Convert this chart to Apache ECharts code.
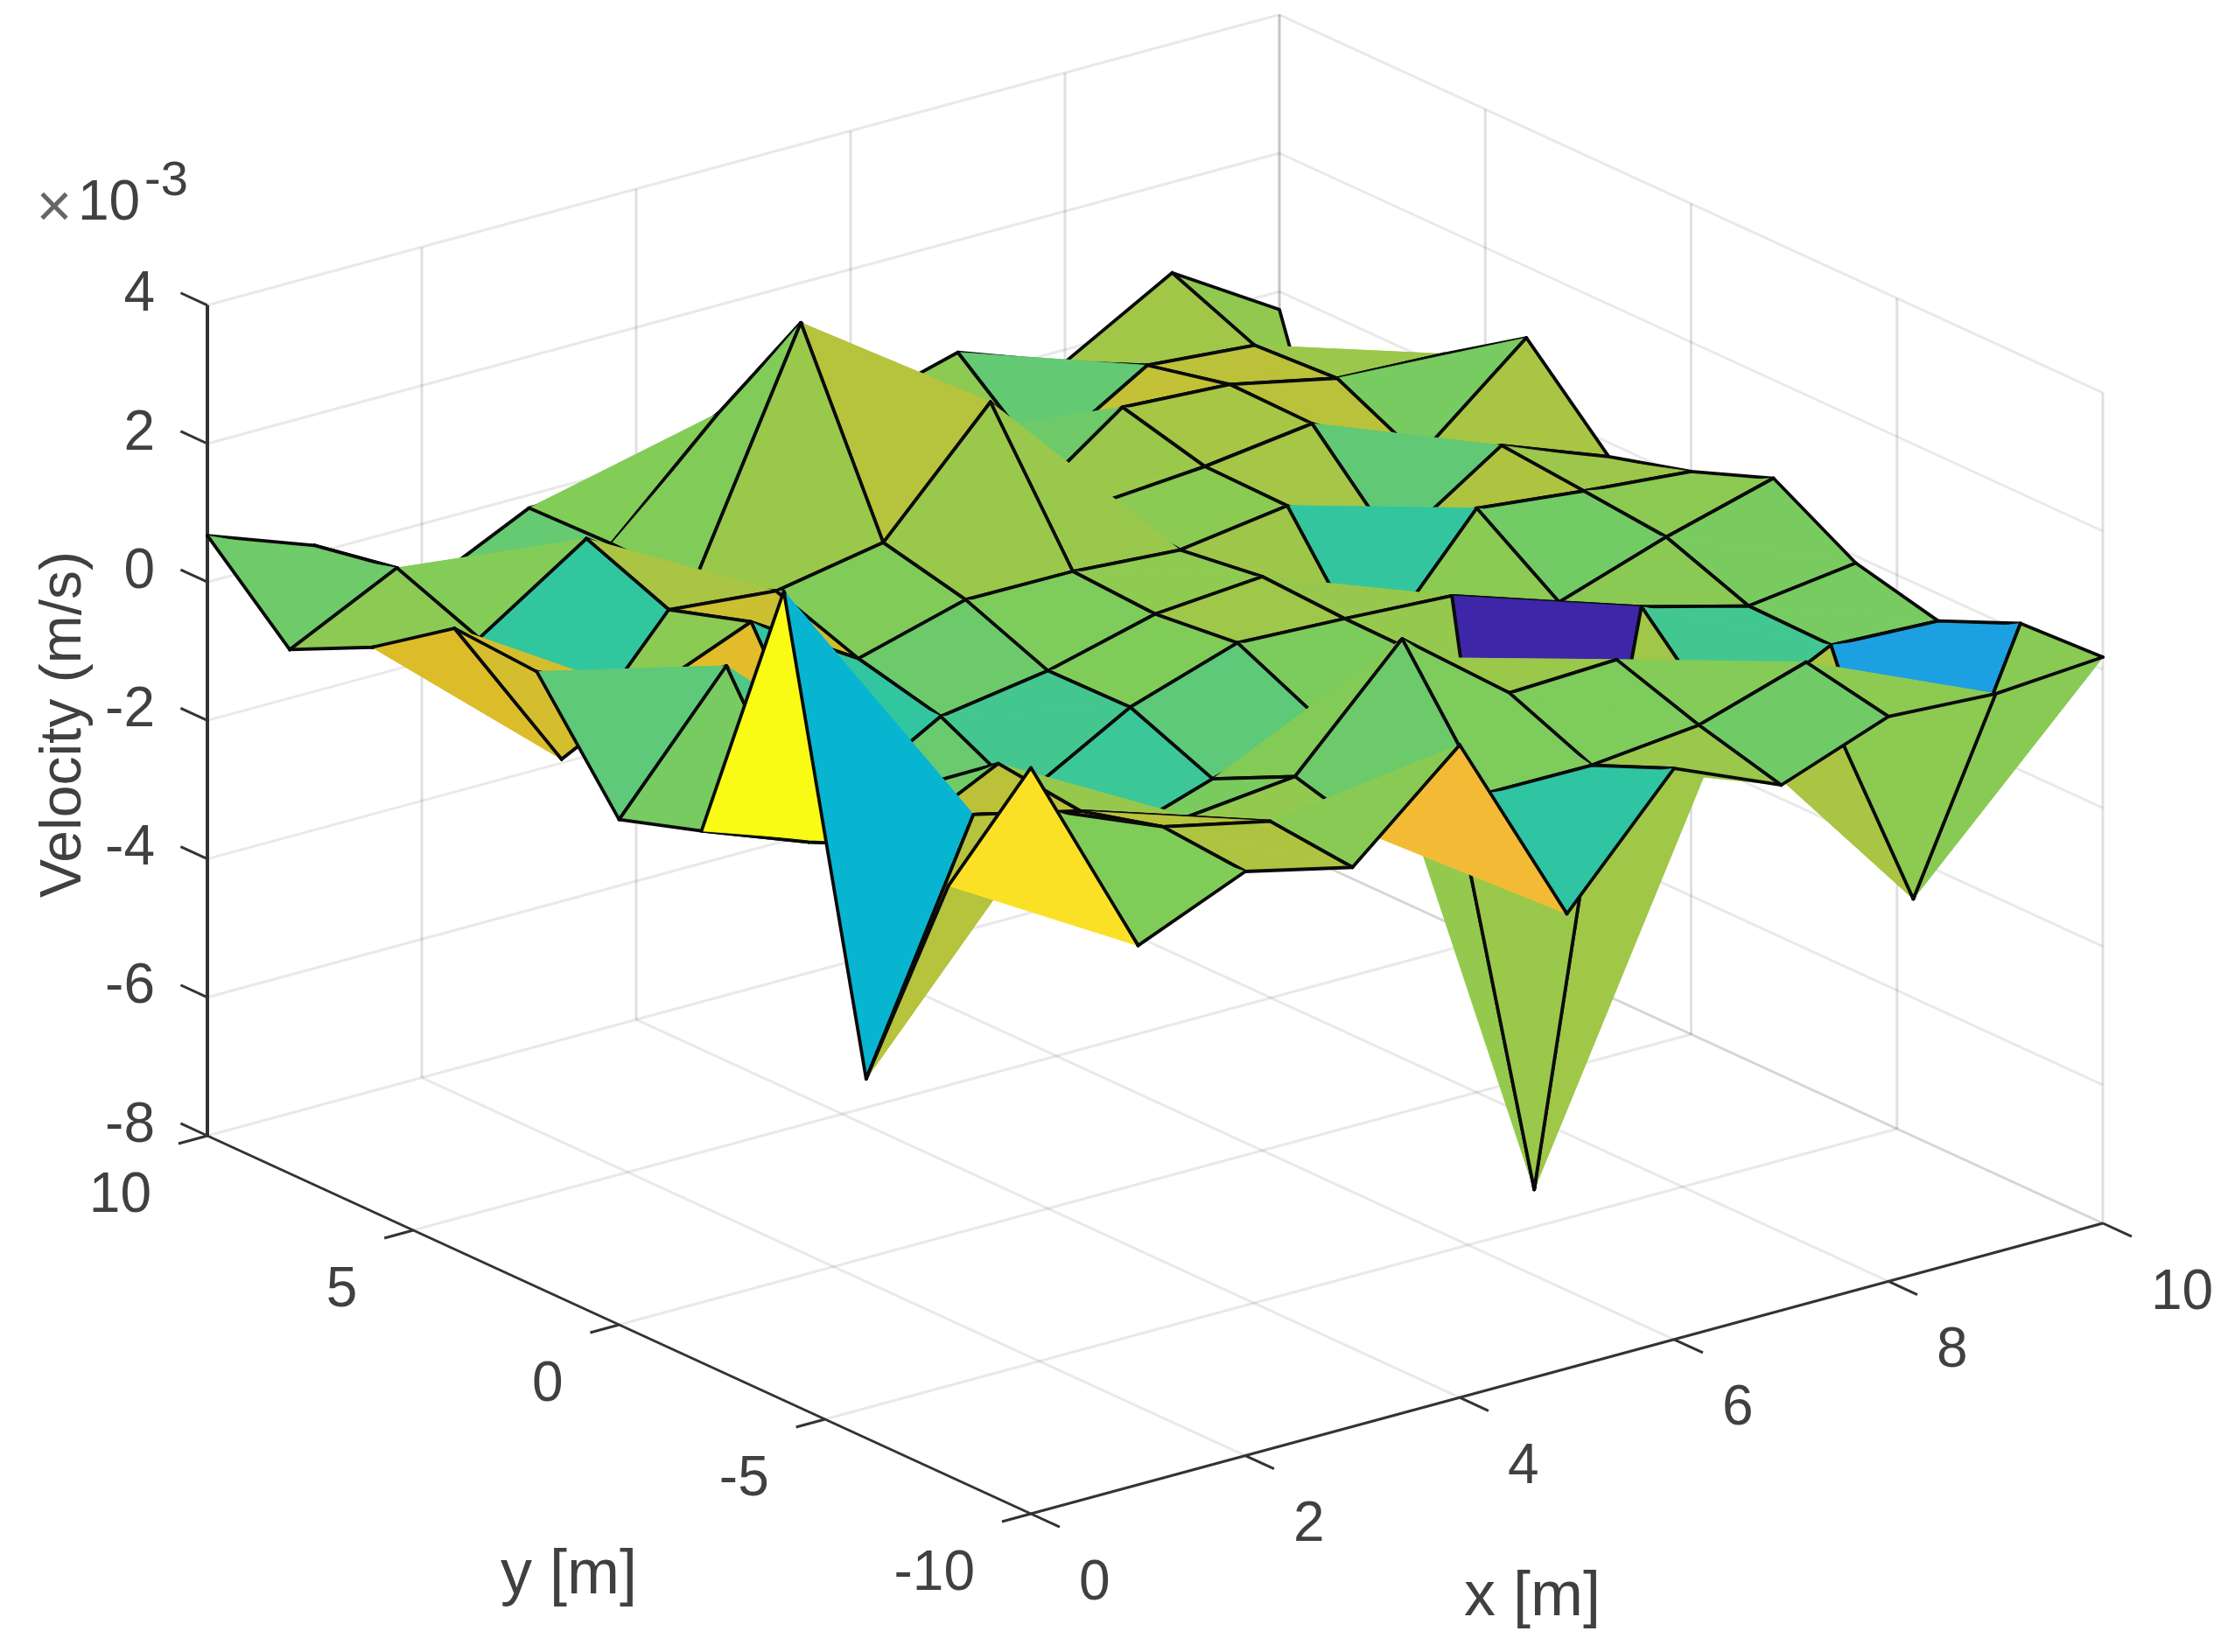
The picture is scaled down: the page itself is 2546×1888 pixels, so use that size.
<!DOCTYPE html>
<html>
<head>
<meta charset="utf-8">
<title>Velocity surface</title>
<script src="https://cdn.jsdelivr.net/npm/echarts@6/dist/echarts.min.js"></script>
<style>html,body{margin:0;padding:0;background:#fff}#chart{width:2546px;height:1888px}</style>
</head>
<body>
<div id="chart"></div>
<script>
// ---------- data (velocity in 10^-3 m/s) ----------
const xGrid = [0,1,2,3,4,5,6,7,8,9,10];
const yGrid = [-10,-8,-6,-4,-2,0,2,4,6,8,10];
const xTicks = [0,2,4,6,8,10];
const yTicks = [-10,-5,0,5,10];
const zTicks = [-8,-6,-4,-2,0,2,4];
const velYm10 = [2.78,-0.21,0.44,0.08,1.43,-1.43,0.25,-0.41,0.16,0.07,0.18];
const velYm8  = [0.53,1.18,0.54,0.20,-0.45,-0.24,-0.25,-0.09,0.40,-3.44,0.12];
const velYm6  = [-2.81,0.59,0.22,-0.28,-0.12,1.45,0.25,0.31,-1.09,-0.32,-0.39];
const velYm4  = [3.69,-0.40,0.36,-1.21,-0.70,-0.26,0.21,-7.89,0.11,-0.30,-0.10];
const velYm2  = [-0.32,-0.90,-0.52,-1.08,-0.21,0.30,0.23,0.14,-0.37,0.15,0.58];
const velY0   = [-0.70,1.10,-1.35,-0.47,-0.23,0.17,0.29,-1.32,0.44,0.27,0.13];
const velY2   = [0.89,0.14,0.77,-0.18,0.25,0.24,0.13,0.35,-0.64,0.38,-0.20];
const velY4   = [0.97,-1.34,0.40,0.25,0.53,2.14,0.25,0.37,0.57,-0.32,0.97];
const velY6   = [0.15,-0.14,0.88,-0.19,3.16,1.00,-0.44,0.68,0.59,0.26,0.19];
const velY8   = [-0.43,0.33,-0.58,-0.16,1.31,0.05,0.15,-0.61,0.32,0.19,-4.01];
const velY10  = [0.67,0.11,-0.93,-0.19,-0.16,0.04,-0.05,0.38,-0.18,0.69,-0.26];
const velocity = [velYm10,velYm8,velYm6,velYm4,velYm2,velY0,velY2,velY4,velY6,velY8,velY10];

// ---------- view ----------
const origin = [1178, 1730];      // (x=0, y=-10, z=-8) on the plane
const xStep = [122.5, -33.2];     // per x unit
const yStep = [-47.05, -21.6];    // per y unit
const zStep = -79.1;              // per z unit
function project(x,y,z){
  const dy = y+10, dz = z+8;
  return [origin[0]+x*xStep[0]+dy*yStep[0], origin[1]+x*xStep[1]+dy*yStep[1]+dz*zStep];
}
// ---------- colour ----------
const parulaStops = [[0,.2422,.1504,.6603],[.125,.2810,.3228,.9579],[.25,.1540,.5902,.9218],[.375,.0297,.7082,.8163],
  [.5,.1938,.7758,.6251],[.625,.5044,.7993,.3480],[.75,.8634,.7406,.1596],[.8125,.95,.73,.21],[.875,.9892,.8136,.1885],[1,.9769,.9839,.0805]];
const levelAnchors = [[-7.89,0],[-3.44,.29],[-2.81,.375],[-1.35,.5],[-.4,.6],[-.2,.625],[.15,.64],[.25,.66],[.5,.695],[.9,.74],[1.43,.815],[3.69,1]];
function levelOf(z){
  for(let k=1;k<levelAnchors.length;k++){
    const a=levelAnchors[k-1],b=levelAnchors[k];
    if(z<=b[0]) return a[1]+(b[1]-a[1])*(z-a[0])/(b[0]-a[0]);
  }
  return 1;
}
function parula(t){
  t=Math.max(0,Math.min(1,t));
  let k=0;
  while(k<parulaStops.length-2 && t>parulaStops[k+1][0]) k++;
  const a=parulaStops[k],b=parulaStops[k+1],f=(t-a[0])/(b[0]-a[0]);
  const c=[1,2,3].map(n=>Math.round(255*(a[n]+(b[n]-a[n])*f)));
  return 'rgb('+c.join(',')+')';
}
// ---------- faces, back to front ----------
const faces=[];
for(let i=xGrid.length-2;i>=0;i--) for(let j=yGrid.length-2;j>=0;j--) faces.push([i,j]);

function renderFace(params,api){
  const i=api.value(0), j=api.value(1);
  const pt=(a,b)=>api.coord(project(xGrid[a],yGrid[b],velocity[b][a]));
  const P00=pt(i,j),P10=pt(i+1,j),P01=pt(i,j+1),P11=pt(i+1,j+1);
  const col=parula(levelOf(velocity[j][i]));
  const tri=p=>({type:'polygon',silent:true,shape:{points:p},style:{fill:col,stroke:col,lineWidth:0.8}});
  const edge=p=>({type:'polyline',silent:true,shape:{points:p},style:{fill:'none',stroke:'#0a0a0a',lineWidth:3.8,lineJoin:'round',lineCap:'round'}});
  return {type:'group',children:[tri([P01,P10,P11]),edge([P01,P11,P10]),tri([P00,P10,P01]),edge([P10,P00,P01])]};
}
// ---------- box ----------
const gridSegs=[], darkSegs=[], labels=[];
const xMin=0,xMax=10,yMin=-10,yMax=10,zMin=-8,zMax=4;
xTicks.forEach(x=>{ gridSegs.push([x,yMin,zMin,x,yMax,zMin]); gridSegs.push([x,yMax,zMin,x,yMax,zMax]); });
yTicks.forEach(y=>{ gridSegs.push([xMin,y,zMin,xMax,y,zMin]); gridSegs.push([xMax,y,zMin,xMax,y,zMax]); });
zTicks.forEach(z=>{ if(z>zMin) gridSegs.push([xMin,yMax,z,xMax,yMax,z]); gridSegs.push([xMax,yMax,z,xMax,yMin,z]); });
darkSegs.push([xMin,yMax,zMin,xMin,yMax,zMax,4]);
darkSegs.push([xMin,yMin,zMin,xMin,yMax,zMin,3]);
darkSegs.push([xMin,yMin,zMin,xMax,yMin,zMin,3]);
xTicks.forEach(x=>darkSegs.push([x,yMin,zMin,x,yMin-0.7,zMin,3]));
yTicks.forEach(y=>darkSegs.push([xMin,y,zMin,xMin-0.27,y,zMin,3]));
zTicks.forEach(z=>darkSegs.push([xMin,yMax,z,xMin,yMax+0.65,z,3]));

const labelFont='"Liberation Sans", Arial, sans-serif';
xTicks.forEach(x=>labels.push({value:[x,yMin,zMin],name:String(x),dx:55,dy:80,align:'left'}));
yTicks.forEach(y=>labels.push({value:[xMin,y,zMin],name:String(y),dx:-64,dy:69,align:'right'}));
zTicks.forEach(z=>labels.push({value:[xMin,yMax,z],name:String(z),dx:-60,dy:-11,align:'right'}));

const option={
  animation:false,
  backgroundColor:'#fff',
  grid:{left:0,right:0,top:0,bottom:0},
  xAxis:{type:'value',min:0,max:2546,show:false},
  yAxis:{type:'value',min:0,max:1888,inverse:true,show:false},
  graphic:[
    {type:'text',x:62,y:240,silent:true,style:{text:'×',font:'70px '+labelFont,fill:'#666',textAlign:'center',textVerticalAlign:'middle'}},
    {type:'text',x:89,y:233,silent:true,style:{text:'10',font:'64px '+labelFont,fill:'#404040',textAlign:'left',textVerticalAlign:'middle'}},
    {type:'text',x:165,y:208,silent:true,style:{text:'-3',font:'56px '+labelFont,fill:'#404040',textAlign:'left',textVerticalAlign:'middle'}},
    {type:'text',x:650,y:1801,silent:true,style:{text:'y [m]',font:'72px '+labelFont,fill:'#404040',textAlign:'center',textVerticalAlign:'middle'}},
    {type:'text',x:1751,y:1826,silent:true,style:{text:'x [m]',font:'72px '+labelFont,fill:'#404040',textAlign:'center',textVerticalAlign:'middle'}},
    {type:'text',x:74,y:828,rotation:Math.PI/2,silent:true,style:{text:'Velocity (m/s)',font:'66px '+labelFont,fill:'#404040',textAlign:'center',textVerticalAlign:'middle'}}
  ],
  series:[
    {type:'custom',name:'grid',coordinateSystem:'cartesian2d',z:1,clip:false,silent:true,data:gridSegs,
      renderItem:(p,api)=>{
        const a=api.coord(project(api.value(0),api.value(1),api.value(2))),b=api.coord(project(api.value(3),api.value(4),api.value(5)));
        const vertical=Math.abs(a[0]-b[0])<1;
        return {type:'line',silent:true,shape:{x1:a[0],y1:a[1],x2:b[0],y2:b[1]},style:{stroke:vertical?'rgba(38,38,38,0.14)':'rgba(38,38,38,0.10)',lineWidth:3}};
      }},
    {type:'custom',name:'axes',coordinateSystem:'cartesian2d',z:2,clip:false,silent:true,data:darkSegs,
      renderItem:(p,api)=>{
        const a=api.coord(project(api.value(0),api.value(1),api.value(2))),b=api.coord(project(api.value(3),api.value(4),api.value(5)));
        return {type:'line',silent:true,shape:{x1:a[0],y1:a[1],x2:b[0],y2:b[1]},style:{stroke:'#333',lineWidth:api.value(6)}};
      }},
    {type:'custom',name:'Velocity',coordinateSystem:'cartesian2d',z:3,clip:false,silent:true,data:faces,renderItem:renderFace},
    {type:'custom',name:'tick labels',coordinateSystem:'cartesian2d',z:4,clip:false,silent:true,
      data:labels.map(l=>({value:l.value,name:l.name})),
      renderItem:(p,api)=>{
        const l=labels[p.dataIndex];
        const a=api.coord(project(api.value(0),api.value(1),api.value(2)));
        return {type:'text',silent:true,x:a[0]+l.dx,y:a[1]+l.dy,style:{text:l.name,font:'64px '+labelFont,fill:'#404040',textAlign:l.align,textVerticalAlign:'middle'}};
      }}
  ]
};
const chart=echarts.init(document.getElementById('chart'),null,{width:2546,height:1888,devicePixelRatio:1});
chart.setOption(option);
</script>
</body>
</html>
